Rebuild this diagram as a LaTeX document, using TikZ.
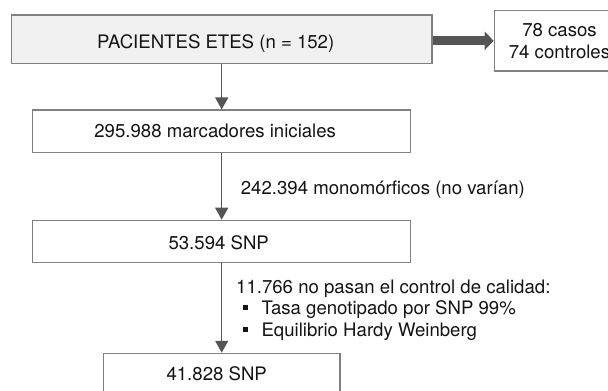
\documentclass[tikz,border=0pt]{standalone}
\usepackage{fontspec}
\setmainfont{TeX Gyre Heros}
\usetikzlibrary{arrows.meta}
\definecolor{boxline}{HTML}{808080}
\definecolor{arr}{HTML}{555555}
\definecolor{fillgray}{HTML}{F1F1F1}
\definecolor{txt}{HTML}{141414}
\begin{document}
\begin{tikzpicture}[x=1pt,y=-1pt,
  font=\fontsize{18.6}{21.9}\selectfont,
  box/.style={draw=boxline, line width=1.2pt, inner sep=0pt, text=txt, fill=white, text depth=0pt},
  flow/.style={draw=arr, line width=1.3pt, -{Triangle[width=13pt,length=12pt]}},
  fatarrow/.style={draw=arr, line width=9pt, -{Triangle[width=18pt,length=9pt]}},
  note/.style={inner sep=0pt, text=txt}]
\useasboundingbox (0,0) rectangle (608,391);
\clip (0,0) rectangle (608,391);

\node[box, fill=fillgray, minimum width=420.7pt, minimum height=48.3pt, text height=18.2pt] (pac) at (221.7,39.2) {PACIENTES ETES (n = 152)\hspace*{12pt}};
\node[box, minimum width=130.4pt, minimum height=60.3pt, align=center, text depth=] (cas) at (559.5,40.8) {78 casos\\74 controles};
\node[box, minimum width=378pt, minimum height=42.3pt, text height=13pt] (mar) at (221.7,131.2) {295.988 marcadores iniciales\hspace*{13pt}};
\node[box, minimum width=378pt, minimum height=42.4pt, text height=15.6pt] (snpa) at (221.7,241.5) {53.594 SNP\hspace*{6pt}};
\node[box, minimum width=236.7pt, minimum height=42.3pt, text height=11.6pt] (snpb) at (221.7,374.5) {41.828 SNP\hspace*{10pt}};

\node[note, anchor=base west] (mono) at (240.7,194) {242.394 monomórficos (no varían)};
\node[note, anchor=north west, align=left] (qc) at (236,279.3) {11.766 no pasan el control de calidad:\\
\hspace*{6.3pt}\rule[4.5pt]{5pt}{5pt}\hspace{14pt}Tasa genotipado por SNP 99\%\\
\hspace*{6.3pt}\rule[4.5pt]{5pt}{5pt}\hspace{14pt}Equilibrio Hardy Weinberg};

\draw[fatarrow] (pac.east |- cas.west) -- (cas.west);
\draw[flow] (pac.south) -- (mar.north);
\draw[flow] (mar.south) -- (snpa.north);
\draw[flow] (snpa.south) -- (snpb.north);
\end{tikzpicture}
\end{document}
